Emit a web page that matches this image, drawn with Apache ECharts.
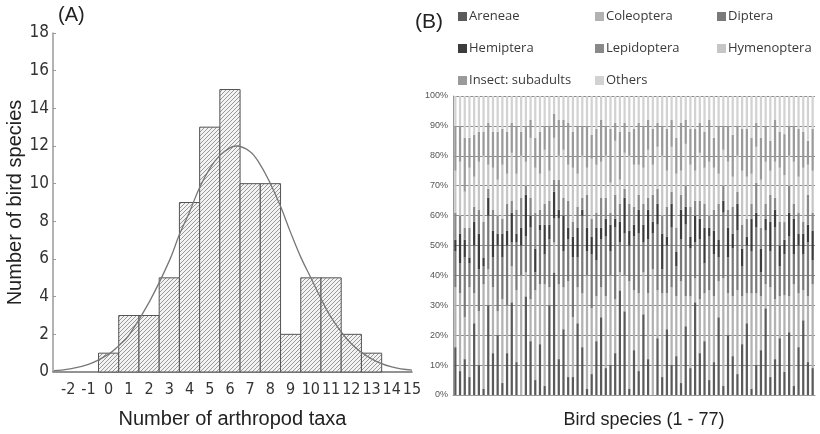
<!DOCTYPE html>
<html>
<head>
<meta charset="utf-8">
<script src="https://cdn.jsdelivr.net/npm/echarts@6/dist/echarts.min.js"></script>
<style>
  html, body { margin: 0; padding: 0; background: #fff; }
  #chart { width: 820px; height: 434px; }
</style>
</head>
<body>
<div id="chart"></div>
<script>
// ---- (A) histogram: number of arthropod taxa per bird species ----
const taxaBins = [0, 1, 2, 3, 4, 5, 6, 7, 8, 9, 10, 11, 12, 13];
const speciesCounts = [1, 3, 3, 5, 9, 13, 15, 10, 10, 2, 5, 5, 2, 1];
const xTickLabels = [-2, -1, 0, 1, 2, 3, 4, 5, 6, 7, 8, 9, 10, 11, 12, 13, 14, 15];
// fitted normal curve, sampled along the x axis
const curveX = [-2.7, -2, -1, 0, 0.5, 1, 2, 3, 3.5, 4, 4.5, 5, 5.5, 6, 6.3, 7, 7.5, 8, 8.5, 9, 9.5, 10, 10.5, 11, 12, 13, 14, 15];
const curveY = [0.07, 0.15, 0.4, 0.95, 1.4, 1.95, 3.7, 5.9, 7.3, 8.5, 9.8, 10.8, 11.5, 11.9, 12.0, 11.7, 11.0, 10.0, 8.8, 7.4, 6.1, 5.0, 3.9, 2.9, 1.5, 0.7, 0.27, 0.1];

// ---- (B) diet composition of the 77 bird species ----
const dietGroups = ['Areneae', 'Coleoptera', 'Diptera', 'Hemiptera', 'Lepidoptera', 'Hymenoptera', 'Insect: subadults', 'Others'];
const areneae = [16,8,12,6,24,10,2,30,14,20, 4,14,31,11,0,33,18,5,17,3, 30,41,12,22,6,6,24,16,2,7, 18,26,9,10,14,35,28,2,15,8, 27,12,0,19,6,22,10,13,4,23, 9,31,14,18,5,11,26,3,20,13, 7,17,24,2,10,15,29,6,12,19, 8,21,3,16,25,11,9];
const coleoptera = [20,26,14,30,10,18,35,12,22,8, 28,16,12,24,40,8,14,30,20,34, 6,10,25,14,32,20,12,18,38,22, 15,10,24,30,18,6,12,36,20,26, 14,22,42,16,28,12,26,20,34,10, 24,8,18,16,30,22,12,36,14,20, 28,16,10,32,24,18,8,30,20,14, 26,12,34,18,10,22,28];
const diptera = [12,10,20,8,16,14,6,18,10,22, 14,20,8,16,10,12,24,6,18,10, 16,8,22,12,14,20,10,26,8,18, 12,16,20,8,24,10,14,12,18,20, 10,18,12,22,8,16,20,10,14,24, 16,12,20,10,18,14,8,22,12,16, 20,10,16,14,22,8,18,12,24,10, 14,20,10,16,12,18,8];
const hemiptera = [4,10,6,2,8,12,3,6,9,4, 8,5,10,3,6,14,4,8,2,10, 5,9,3,12,4,7,10,2,8,6, 11,4,6,9,3,7,12,5,4,8, 6,10,4,7,12,3,8,5,10,6, 4,9,7,12,3,8,6,4,10,5, 9,6,3,11,5,8,4,10,6,7, 5,8,12,4,7,6,10];
const lepidoptera = [9,6,4,10,5,8,12,3,7,6, 5,9,4,8,10,3,6,12,5,7, 8,4,10,6,9,5,7,4,11,6, 5,10,7,4,8,6,3,9,6,5, 7,4,9,5,6,10,4,8,5,7, 10,5,6,8,4,7,12,5,6,9, 4,8,6,5,10,7,5,9,4,8, 6,9,5,7,4,10,6];
const hymenoptera = [14,18,12,20,10,16,22,8,14,12, 18,10,16,12,14,8,20,15,12,18, 10,14,8,16,12,18,11,14,9,20, 16,12,14,10,18,8,12,16,14,10, 12,16,10,14,20,12,15,18,8,14, 14,10,16,12,18,14,10,12,16,10, 12,18,14,10,12,16,14,8,12,18, 16,10,14,12,18,10,14];
const subadults = [15,12,18,10,14,10,8,14,12,16, 12,14,10,16,8,12,6,10,14,8, 15,8,12,10,14,12,16,10,14,8, 12,14,10,18,6,16,10,8,12,14, 14,10,12,8,10,14,9,12,16,8, 12,14,10,12,14,10,16,8,12,14, 10,14,16,12,8,14,12,10,14,12, 14,10,12,16,12,8,14];
const others = [10,10,14,14,13,12,12,9,12,12, 11,12,9,10,12,10,8,14,12,10, 10,6,8,8,9,12,10,10,10,13, 11,8,10,11,9,12,9,12,11,9, 10,8,11,9,10,11,8,14,9,8, 11,11,9,12,8,14,10,10,10,13, 10,11,11,14,9,14,10,15,8,12, 13,10,10,11,12,15,11];
const dietValues = [areneae, coleoptera, diptera, hemiptera, lepidoptera, hymenoptera, subadults, others];
const dietColors = ['#5a5a5a', '#b2b2b2', '#7a7a7a', '#3c3c3c', '#898989', '#c6c6c6', '#9a9a9a', '#d2d2d2'];

const speciesIds = areneae.map((_, i) => String(i + 1));
const speciesTotals = speciesIds.map((_, i) => dietValues.reduce((s, arr) => s + arr[i], 0));

// diagonal hatch used to fill the histogram bars
function hatchPattern() {
  const size = 4;
  const c = document.createElement('canvas');
  c.width = size; c.height = size;
  const g = c.getContext('2d');
  g.fillStyle = '#f3f3f3';
  g.fillRect(0, 0, size, size);
  g.strokeStyle = '#707070';
  g.lineWidth = 0.7;
  g.beginPath();
  g.moveTo(0, size); g.lineTo(size, 0);
  g.moveTo(-1, 1); g.lineTo(1, -1);
  g.moveTo(size - 1, size + 1); g.lineTo(size + 1, size - 1);
  g.stroke();
  return { image: c, repeat: 'repeat' };
}
const hatch = hatchPattern();

const chart = echarts.init(document.getElementById('chart'), null, { renderer: 'canvas' });

const tickFont = "'DejaVu Sans Condensed', 'Liberation Sans', sans-serif";
const sans = "'Liberation Sans', Arial, sans-serif";

// one legend per entry so the three columns line up
const legendCols = [458, 595, 717];
const legendRows = [18, 50, 82];
const legends = dietGroups.map((name, i) => ({
  data: [name],
  left: legendCols[i % 3],
  top: legendRows[Math.floor(i / 3)] - 8,
  padding: 0,
  itemWidth: 9,
  itemHeight: 9,
  icon: 'rect',
  selectedMode: false,
  textStyle: { fontSize: 13, color: '#3a3a3a', fontFamily: "'Open Sans', sans-serif", padding: [0, 0, 0, -3] }
}));

const barSeries = dietGroups.map((name, k) => ({
  name,
  type: 'bar',
  stack: 'diet',
  xAxisIndex: 1,
  yAxisIndex: 1,
  barWidth: '48%',
  itemStyle: { color: dietColors[k] },
  emphasis: { disabled: true },
  data: dietValues[k].map((v, i) => (100 * v) / speciesTotals[i])
}));

chart.setOption({
  animation: false,
  legend: legends,
  title: [
    { text: '(A)', left: 58, top: 5, padding: 0, textStyle: { fontSize: 20, fontWeight: 'normal', color: '#222', fontFamily: sans } },
    { text: '(B)', left: 415, top: 12, padding: 0, textStyle: { fontSize: 21, fontWeight: 'normal', color: '#222', fontFamily: sans } }
  ],
  grid: [
    { left: 53, top: 33, width: 359, height: 340 },
    { left: 453, top: 96, width: 362, height: 307 }
  ],
  xAxis: [
    {
      gridIndex: 0, type: 'value', min: -2.75, max: 15,
      name: 'Number of arthropod taxa', nameLocation: 'middle', nameGap: 37,
      nameTextStyle: { fontSize: 20, color: '#222', fontFamily: sans },
      axisLine: { show: true, onZero: false, lineStyle: { color: '#707070', width: 1.5 } },
      axisTick: { show: false },
      splitLine: { show: false },
      axisLabel: { customValues: xTickLabels, fontSize: 16, color: '#333', fontFamily: tickFont, margin: 10, showMaxLabel: true, hideOverlap: false }
    },
    {
      gridIndex: 1, type: 'category', data: speciesIds,
      name: 'Bird species (1 - 77)', nameLocation: 'middle', nameGap: 16,
      nameTextStyle: { fontSize: 18, color: '#222', fontFamily: sans, padding: [0, 0, 0, 20] },
      axisLine: { show: true, lineStyle: { color: '#999', width: 1 } },
      axisTick: { show: false },
      axisLabel: { show: false }
    }
  ],
  yAxis: [
    {
      gridIndex: 0, type: 'value', min: 0, max: 18, interval: 2,
      name: 'Number of bird species', nameLocation: 'middle', nameGap: 25, nameRotate: 90,
      nameTextStyle: { fontSize: 20, color: '#222', fontFamily: sans },
      axisLine: { show: true, onZero: false, lineStyle: { color: '#9a9a9a', width: 1.5 } },
      axisTick: { show: true, inside: true, length: 3, lineStyle: { color: '#9a9a9a' } },
      splitLine: { show: false },
      axisLabel: { fontSize: 17, color: '#333', fontFamily: tickFont, margin: 4 }
    },
    {
      gridIndex: 1, type: 'value', min: 0, max: 100, interval: 10,
      axisLine: { show: true, lineStyle: { color: '#999' } },
      axisTick: { show: false },
      splitLine: { show: true, lineStyle: { color: '#8a8a8a', width: 1 } },
      axisLabel: { formatter: '{value}%', fontSize: 9, color: '#555', fontFamily: sans, margin: 5 }
    }
  ],
  series: [
    {
      type: 'custom',
      xAxisIndex: 0, yAxisIndex: 0,
      data: taxaBins.map((x, i) => [x, speciesCounts[i]]),
      renderItem(params, api) {
        const x = api.value(0), y = api.value(1);
        const tl = api.coord([x - 0.5, y]);
        const br = api.coord([x + 0.5, 0]);
        return {
          type: 'rect',
          shape: { x: tl[0], y: tl[1], width: br[0] - tl[0], height: br[1] - tl[1] },
          style: { fill: hatch, stroke: '#555', lineWidth: 1 }
        };
      },
      z: 2
    },
    {
      type: 'line',
      xAxisIndex: 0, yAxisIndex: 0,
      data: curveX.map((x, i) => [x, curveY[i]]),
      smooth: 0.4,
      showSymbol: false,
      lineStyle: { color: '#777', width: 1.3 },
      z: 3
    },
    ...barSeries
  ]
});
</script>
</body>
</html>
